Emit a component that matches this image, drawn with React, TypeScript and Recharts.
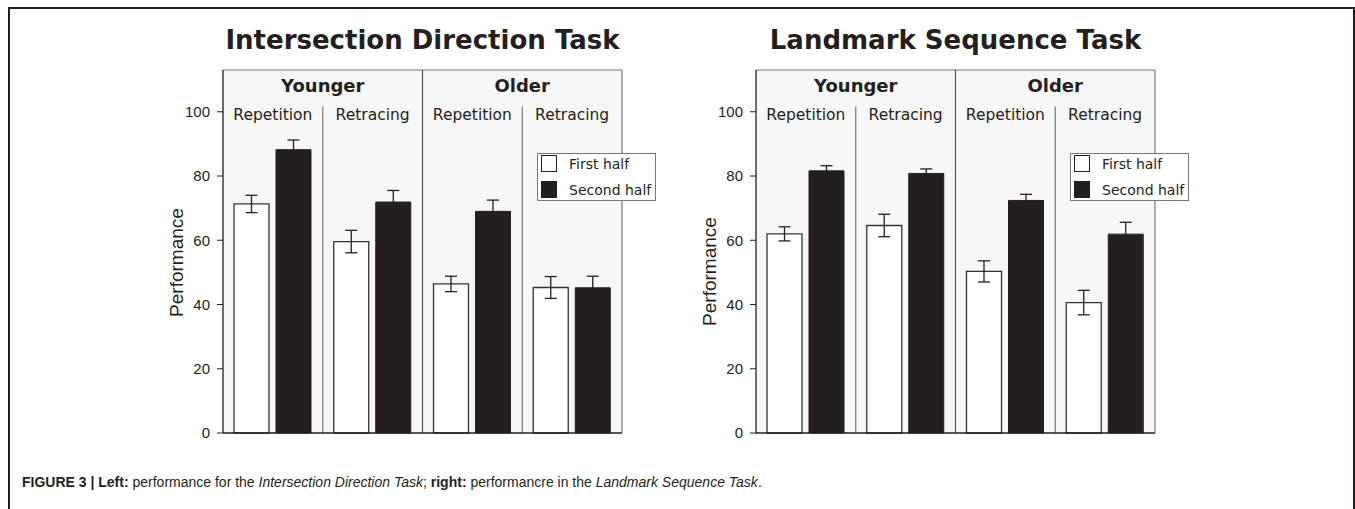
import React from 'react';
import {
	BarChart,
	Bar,
	XAxis,
	YAxis,
	ErrorBar,
	CartesianGrid,
	ReferenceLine,
	ReferenceArea,
	ReferenceDot,
	Legend,
} from 'recharts';

// Conditions along the x axis (age group x task type)
const conditions = ['Younger Repetition', 'Younger Retracing', 'Older Repetition', 'Older Retracing'];
const groupLabels = ['Younger', 'Older'];
const subLabels = ['Repetition', 'Retracing', 'Repetition', 'Retracing'];
const yTicks = [0, 20, 40, 60, 80, 100];

// Intersection Direction Task
const intersectionFirst = [71.3, 59.6, 46.4, 45.3];
const intersectionFirstErr = [2.7, 3.5, 2.4, 3.4];
const intersectionSecond = [88.2, 71.9, 69.0, 45.2];
const intersectionSecondErr = [3.0, 3.6, 3.5, 3.6];

// Landmark Sequence Task
const landmarkFirst = [62.0, 64.6, 50.3, 40.6];
const landmarkFirstErr = [2.2, 3.5, 3.3, 3.8];
const landmarkSecond = [81.6, 80.8, 72.4, 61.9];
const landmarkSecondErr = [1.6, 1.4, 1.9, 3.7];

const INK = '#231f20';
const Y_MAX = 113;
const SUB_DIVIDER_TOP = 101.6;
const GROUP_LABEL_Y = 108;
const SUB_LABEL_Y = 99.3;

interface Row {
	condition: string;
	first: number;
	firstErr: number;
	second: number;
	secondErr: number;
}

function buildRows(first: number[], firstErr: number[], second: number[], secondErr: number[]): Row[] {
	return conditions.map((condition, i) => ({
		condition,
		first: first[i],
		firstErr: firstErr[i],
		second: second[i],
		secondErr: secondErr[i],
	}));
}

function renderLegend(props: any) {
	const payload = props.payload || [];
	return (
		<div
			style={{
				position: 'relative',
				boxSizing: 'border-box',
				width: 119,
				height: 48,
				border: '1px solid #777',
				background: '#fff',
				fontFamily: 'DejaVu Sans',
				fontSize: 14,
				color: INK,
			}}
		>
			{payload.map((entry: any, i: number) => (
				<div
					key={entry.value}
					style={{
						position: 'absolute',
						left: 3,
						top: 1 + i * 26,
						height: 17,
						display: 'flex',
						alignItems: 'center',
					}}
				>
					<span
						style={{
							display: 'inline-block',
							boxSizing: 'border-box',
							width: 16,
							height: 17,
							border: `1px solid ${INK}`,
							background: entry.color,
						}}
					/>
					<span style={{ marginLeft: 12, whiteSpace: 'nowrap' }}>{entry.value}</span>
				</div>
			))}
		</div>
	);
}

interface PanelProps {
	title: string;
	rows: Row[];
	left: number;
	labelDy: number;
}

function Panel({ title, rows, left, labelDy }: PanelProps) {
	return (
		<div style={{ position: 'absolute', left, top: 0, width: 540, height: 470 }}>
			<div
				style={{
					position: 'absolute',
					left: 73,
					top: 25,
					width: 399,
					lineHeight: '30px',
					textAlign: 'center',
					fontFamily: 'DejaVu Sans',
					fontWeight: 'bold',
					fontSize: 26,
					color: INK,
					whiteSpace: 'nowrap',
				}}
			>
				{title}
			</div>
			<BarChart
				width={540}
				height={470}
				data={rows}
				margin={{ top: 70, right: 68, bottom: 36, left: 0 }}
				barGap={7}
				barSize={35}
			>
				<CartesianGrid horizontal={false} vertical={false} fill="#f7f7f7" />
				<XAxis
					dataKey="condition"
					height={1}
					tick={false}
					tickLine={false}
					axisLine={{ stroke: INK, strokeWidth: 1.3 }}
				/>
				<YAxis
					domain={[0, Y_MAX]}
					ticks={yTicks}
					width={73}
					tickSize={6}
					tickMargin={7}
					axisLine={{ stroke: INK, strokeWidth: 1.3 }}
					tickLine={{ stroke: INK, strokeWidth: 1 }}
					tick={{ fill: INK, fontSize: 15, fontFamily: 'Liberation Sans' }}
					label={{
						value: 'Performance',
						angle: -90,
						position: 'center',
						dx: -10,
						dy: labelDy,
						fill: INK,
						fontSize: 19,
						fontFamily: 'Liberation Sans',
					}}
				/>

				{/* plot box: top and right edges, group dividers */}
				<ReferenceLine y={Y_MAX} stroke="#777" strokeWidth={1.2} />
				<ReferenceLine x={conditions[3]} position="end" stroke="#777" strokeWidth={1.2} />
				<ReferenceLine x={conditions[2]} position="start" stroke="#555" strokeWidth={1.2} />
				{[conditions[1], conditions[3]].map((c) => (
					<ReferenceLine
						key={c}
						position="start"
						segment={[{ x: c, y: 0 }, { x: c, y: SUB_DIVIDER_TOP }]}
						stroke="#777"
						strokeWidth={1.2}
					/>
				))}
				{groupLabels.map((g, i) => (
					<ReferenceArea
						key={g}
						x1={conditions[i * 2]}
						x2={conditions[i * 2 + 1]}
						y1={GROUP_LABEL_Y - 1}
						y2={GROUP_LABEL_Y + 1}
						fill="none"
						stroke="none"
						label={{
							value: g,
							position: 'center',
							fill: INK,
							fontSize: 18,
							fontWeight: 'bold',
							fontFamily: 'DejaVu Sans',
						}}
					/>
				))}
				{subLabels.map((s, i) => (
					<ReferenceDot
						key={i}
						x={conditions[i]}
						y={SUB_LABEL_Y}
						r={0}
						stroke="none"
						label={{
							value: s,
							position: 'center',
							fill: INK,
							fontSize: 15.5,
							fontFamily: 'DejaVu Sans',
						}}
					/>
				))}

				<Bar dataKey="first" name="First half" fill="#ffffff" stroke="#333" strokeWidth={1.3} isAnimationActive={false}>
					<ErrorBar dataKey="firstErr" width={6} stroke={INK} strokeWidth={1.3} />
				</Bar>
				<Bar dataKey="second" name="Second half" fill={INK} stroke={INK} strokeWidth={1} isAnimationActive={false}>
					<ErrorBar dataKey="secondErr" width={6} stroke={INK} strokeWidth={1.3} />
				</Bar>
				<Legend
					layout="vertical"
					align="center"
					verticalAlign="middle"
					wrapperStyle={{ left: 387, top: 153, width: 119, height: 48 }}
					content={renderLegend}
				/>
			</BarChart>
		</div>
	);
}

export default function App() {
	const intersectionRows = buildRows(intersectionFirst, intersectionFirstErr, intersectionSecond, intersectionSecondErr);
	const landmarkRows = buildRows(landmarkFirst, landmarkFirstErr, landmarkSecond, landmarkSecondErr);

	return (
		<div style={{ position: 'relative', width: 1355, height: 509, overflow: 'hidden', background: '#fff' }}>
			<style>{`body { margin: 0; overflow: hidden; }`}</style>
			{/* figure frame */}
			<div
				style={{
					position: 'absolute',
					left: 8,
					top: 7,
					width: 1343,
					height: 510,
					borderTop: `2px solid ${INK}`,
					borderLeft: `2px solid ${INK}`,
					borderRight: `2px solid ${INK}`,
				}}
			/>
			<Panel title="Intersection Direction Task" rows={intersectionRows} left={150} labelDy={11} />
			<Panel title="Landmark Sequence Task" rows={landmarkRows} left={683} labelDy={20} />
			<div
				style={{
					position: 'absolute',
					left: 22,
					top: 474,
					fontFamily: 'Liberation Sans',
					fontSize: 14,
					color: INK,
					whiteSpace: 'nowrap',
				}}
			>
				<b>FIGURE 3 | Left:</b> performance for the <i>Intersection Direction Task</i>; <b>right:</b> performancre in
				the <i>Landmark Sequence Task</i>.
			</div>
		</div>
	);
}
